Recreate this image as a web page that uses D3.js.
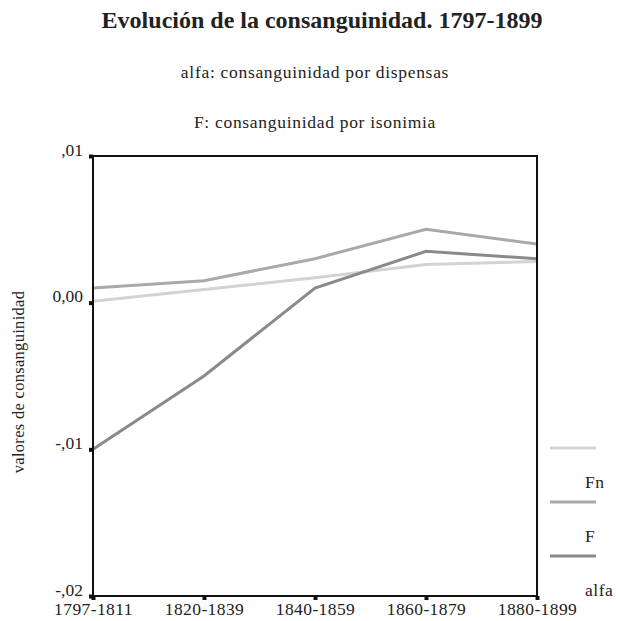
<!DOCTYPE html>
<html>
<head>
<meta charset="utf-8">
<script src="https://cdn.jsdelivr.net/npm/d3@7"></script>
<style>
  body { margin: 0; background: #fff; }
  text { font-family: "Liberation Serif", "DejaVu Serif", serif; fill: #222; }
</style>
</head>
<body>
<svg id="chart" width="618" height="621"></svg>
<script>
// data
var periods = ["1797-1811", "1820-1839", "1840-1859", "1860-1879", "1880-1899"];
var fnValues   = [0.0001, 0.0009, 0.0017, 0.0026, 0.0028];
var fValues    = [0.0010, 0.0015, 0.0030, 0.0050, 0.0040];
var alfaValues = [-0.0100, -0.0050, 0.0010, 0.0035, 0.0030];
var seriesNames = ["Fn", "F", "alfa"];
var yTicks = [0.01, 0, -0.01, -0.02];
var yTickLabels = [",01", "0,00", "-,01", "-,02"];

var colours = ["#d3d3d3", "#a9a9a9", "#8a8a8a"];
var series = [fnValues, fValues, alfaValues];

var svg = d3.select("#chart");

var margin = {top: 156, right: 81, bottom: 25, left: 93},
    width = 618 - margin.left - margin.right,
    height = 621 - margin.top - margin.bottom;

var x = d3.scalePoint().domain(periods).range([margin.left, margin.left + width]);
var y = d3.scaleLinear().domain([-0.02, 0.01]).range([margin.top + height, margin.top]);

// titles
svg.append("text")
    .attr("x", 322).attr("y", 28)
    .attr("text-anchor", "middle")
    .style("font-size", "24px")
    .style("font-weight", "bold")
    .text("Evolución de la consanguinidad. 1797-1899");

svg.append("text")
    .attr("x", 315).attr("y", 78)
    .attr("text-anchor", "middle")
    .style("font-size", "17.5px")
    .style("letter-spacing", "0.7px")
    .text("alfa: consanguinidad por dispensas");

svg.append("text")
    .attr("x", 315).attr("y", 128)
    .attr("text-anchor", "middle")
    .style("font-size", "17.5px")
    .style("letter-spacing", "0.7px")
    .text("F: consanguinidad por isonimia");

// lines
var line = d3.line()
    .x(function(d, i) { return x(periods[i]); })
    .y(function(d) { return y(d); });

series.forEach(function(s, i) {
  svg.append("path")
      .datum(s)
      .attr("fill", "none")
      .attr("stroke", colours[i])
      .attr("stroke-width", 3)
      .attr("d", line);
});

// frame
svg.append("rect")
    .attr("x", margin.left).attr("y", margin.top)
    .attr("width", width).attr("height", height)
    .attr("fill", "none")
    .attr("stroke", "#111")
    .attr("stroke-width", 2);

// y axis
var yAxis = d3.axisLeft(y)
    .tickValues(yTicks)
    .tickSize(4)
    .tickFormat(function(d, i) { return yTickLabels[i]; });

var gy = svg.append("g")
    .attr("transform", "translate(" + margin.left + ",0)")
    .call(yAxis);
gy.select(".domain").remove();
gy.selectAll(".tick line").attr("stroke", "#111").attr("stroke-width", 4);
gy.selectAll(".tick text")
    .attr("x", -10)
    .attr("dy", "-0.05em")
    .style("font-size", "17.5px")
    .style("font-family", "'Liberation Serif', serif")
    .style("fill", "#222");

// x axis
var xAxis = d3.axisBottom(x).tickSize(4);
var gx = svg.append("g")
    .attr("transform", "translate(0," + (margin.top + height) + ")")
    .call(xAxis);
gx.select(".domain").remove();
gx.selectAll(".tick line").attr("stroke", "#111").attr("stroke-width", 4);
gx.selectAll(".tick text")
    .attr("y", 7)
    .style("font-size", "17.5px")
    .style("letter-spacing", "0.4px")
    .style("font-family", "'Liberation Serif', serif")
    .style("fill", "#222");

// y label
svg.append("text")
    .attr("transform", "translate(24," + 382 + ") rotate(-90)")
    .attr("text-anchor", "middle")
    .style("font-size", "16.5px")
    .style("letter-spacing", "0.3px")
    .text("valores de consanguinidad");

// legend: line then label below
var legend = svg.selectAll(".legend")
    .data(seriesNames)
  .enter().append("g")
    .attr("class", "legend")
    .attr("transform", function(d, i) { return "translate(550," + (448 + i * 54) + ")"; });

legend.append("line")
    .attr("x1", 0).attr("x2", 46)
    .attr("stroke", function(d, i) { return colours[i]; })
    .attr("stroke-width", 3);

legend.append("text")
    .attr("x", 35).attr("y", 40)
    .style("font-size", "17.5px")
    .style("letter-spacing", "0.5px")
    .text(function(d) { return d; });
</script>
</body>
</html>
